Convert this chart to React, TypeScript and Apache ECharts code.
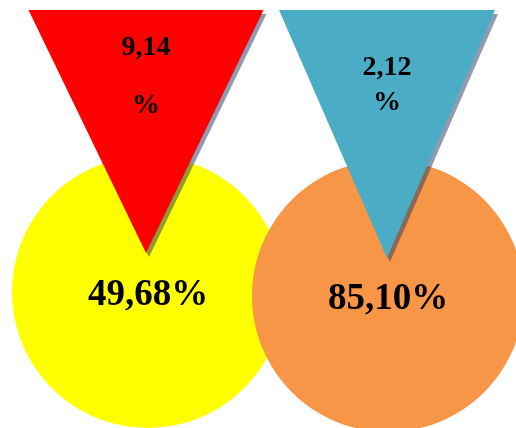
import { useEffect, useRef } from "react";
import * as echarts from "echarts";

const categories = ["Série 1", "Série 2"];
const circleValues = [49.68, 85.1];
const triangleValues = [9.14, 2.12];

const circleColors = ["#ffff00", "#f79646"];
const triangleColors = ["#ff0000", "#4bacc6"];

const fmt = (v: number) => v.toFixed(2).replace(".", ",");

export default function App() {
  const ref = useRef<HTMLDivElement>(null);
  useEffect(() => {
    const chart = echarts.init(ref.current!, null, { renderer: "svg" });
    const circleY = [292, 296];
    const circleD = [272, 272];
    const triY = [131.5, 134];
    const triSize = [
      [235, 243],
      [216, 248],
    ];
    const triOffset = [
      [-2, 0],
      [-1, 0],
    ];
    const triLabel = [
      { sep: "\n\n", lh: 29, dy: -57 },
      { sep: "\n", lh: 35, dy: -51 },
    ];
    const font = "'Liberation Serif', 'DejaVu Serif', serif";
    const triPath = "path://M0,0L100,0L50,100Z";

    chart.setOption({
      animation: false,
      grid: { left: 28, right: 8, top: 0, bottom: 0 },
      xAxis: { type: "category", data: categories, show: false },
      yAxis: { type: "value", min: 0, max: 428, inverse: true, show: false },
      series: [
        {
          type: "scatter",
          silent: true,
          clip: false,
          z: 1,
          data: categories.map((c, i) => ({
            value: [c, circleY[i], circleValues[i]],
            symbol: "circle",
            symbolSize: circleD[i],
            itemStyle: { color: circleColors[i], opacity: 1 },
          })),
          label: {
            show: true,
            position: "inside",
            formatter: (p: any) => fmt(p.value[2]) + "%",
            fontSize: 37,
            fontWeight: "bold",
            fontFamily: font,
            color: "#000",
          },
        },
        {
          type: "scatter",
          silent: true,
          clip: false,
          z: 2,
          data: categories.map((c, i) => ({
            value: [c, triY[i], triangleValues[i]],
            symbol: triPath,
            symbolSize: triSize[i],
            symbolOffset: [triOffset[i][0] + 3, triOffset[i][1] + 4],
            itemStyle: { color: "rgba(31,56,100,0.5)", opacity: 1 },
          })),
        },
        {
          type: "scatter",
          silent: true,
          clip: false,
          z: 3,
          data: categories.map((c, i) => ({
            value: [c, triY[i], triangleValues[i]],
            symbol: triPath,
            symbolSize: triSize[i],
            symbolOffset: triOffset[i],
            itemStyle: { color: triangleColors[i], opacity: 1 },
            label: {
              show: true,
              position: "inside",
              offset: [0, triLabel[i].dy],
              lineHeight: triLabel[i].lh,
              formatter: (p: any) => fmt(p.value[2]) + triLabel[i].sep + "%",
              fontSize: 28,
              fontWeight: "bold",
              fontFamily: font,
              color: "#000",
              align: "center",
            },
          })),
        },
      ],
    });
    return () => chart.dispose();
  }, []);
  return (
    <div
      ref={ref}
      style={{ position: "fixed", left: 0, top: 0, width: 516, height: 428 }}
    />
  );
}
